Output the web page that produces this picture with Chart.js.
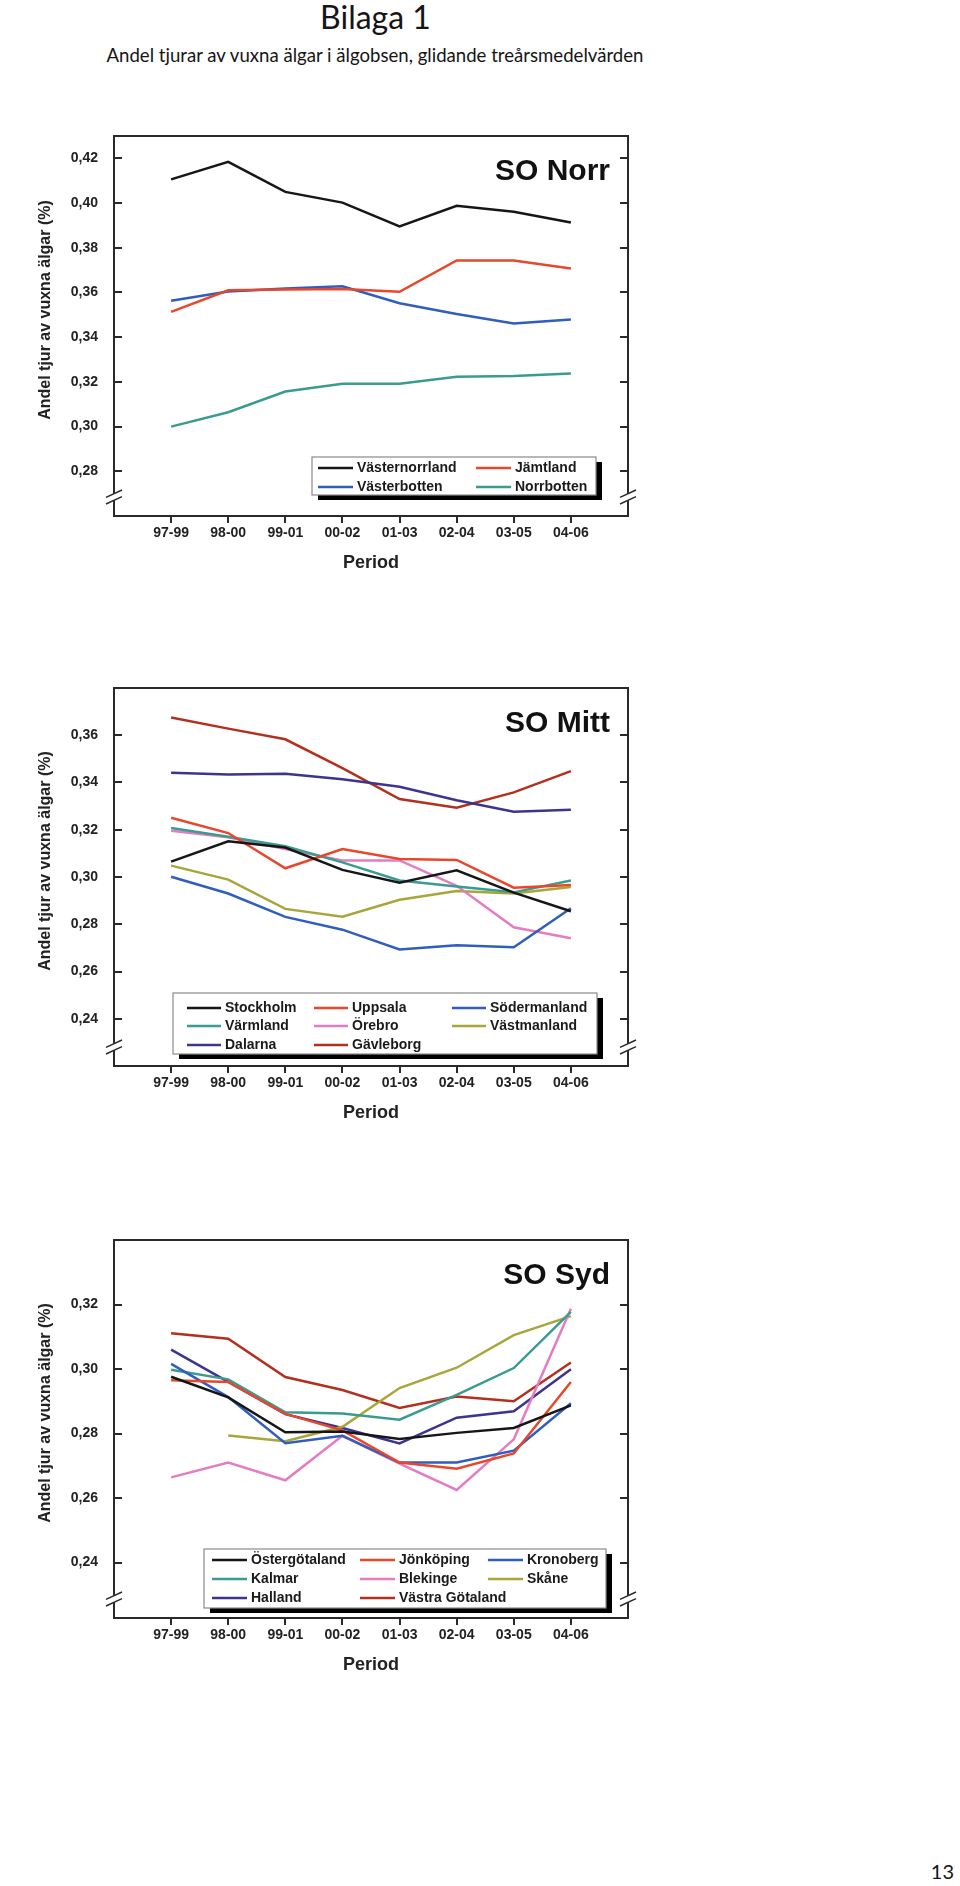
<!DOCTYPE html>
<html>
<head>
<meta charset="utf-8">
<script src="https://cdn.jsdelivr.net/npm/chart.js@4.4.1/dist/chart.umd.min.js"></script>
<style>
html,body{margin:0;padding:0;background:#fff;}
body{width:960px;height:1886px;position:relative;overflow:hidden;}
.hd{position:absolute;font-family:Lato,'Open Sans',sans-serif;color:#151515;white-space:nowrap;line-height:1;}
canvas{position:absolute;left:0;}
</style>
</head>
<body>
<div class="hd" style="left:0;width:751px;top:1px;text-align:center;font-size:32px;">Bilaga 1</div>
<div class="hd" style="left:0;width:750px;top:46px;text-align:center;font-size:18.6px;">Andel tjurar av vuxna älgar i älgobsen, glidande treårsmedelvärden</div>
<div class="hd" style="right:6px;top:1861px;font-size:20px;">13</div>

<canvas id="cNorr" width="700" height="500" style="top:96px"></canvas>
<canvas id="cMitt" width="700" height="498" style="top:648px"></canvas>
<canvas id="cSyd" width="700" height="498" style="top:1200px"></canvas>

<script>
// ---------- data ----------
const periods = ['97-99','98-00','99-01','00-02','01-03','02-04','03-05','04-06'];

// SO Norr
const vasternorrland = [0.4106, 0.4184, 0.4050, 0.4002, 0.3896, 0.3988, 0.3961, 0.3913];
const jamtland       = [0.3513, 0.3610, 0.3613, 0.3616, 0.3603, 0.3743, 0.3743, 0.3707];
const vasterbotten   = [0.3563, 0.3604, 0.3618, 0.3628, 0.3552, 0.3504, 0.3461, 0.3479];
const norrbotten     = [0.3000, 0.3064, 0.3157, 0.3192, 0.3192, 0.3223, 0.3226, 0.3237];
const norrTicks = [0.28, 0.30, 0.32, 0.34, 0.36, 0.38, 0.40, 0.42];

// SO Mitt
const stockholm    = [0.3065, 0.3151, 0.3125, 0.3030, 0.2976, 0.3028, 0.2934, 0.2855];
const uppsala      = [0.3251, 0.3186, 0.3037, 0.3118, 0.3076, 0.3072, 0.2955, 0.2966];
const sodermanland = [0.3001, 0.2930, 0.2831, 0.2777, 0.2693, 0.2711, 0.2703, 0.2868];
const varmland     = [0.3207, 0.3170, 0.3130, 0.3062, 0.2985, 0.2960, 0.2935, 0.2985];
const orebro       = [0.3196, 0.3168, 0.3118, 0.3070, 0.3070, 0.2963, 0.2787, 0.2741];
const vastmanland  = [0.3048, 0.2989, 0.2865, 0.2832, 0.2904, 0.2941, 0.2930, 0.2958];
const dalarna      = [0.3441, 0.3434, 0.3437, 0.3414, 0.3382, 0.3325, 0.3276, 0.3285];
const gavleborg    = [0.3675, 0.3628, 0.3583, 0.3461, 0.3330, 0.3293, 0.3358, 0.3448];
const mittTicks = [0.24, 0.26, 0.28, 0.30, 0.32, 0.34, 0.36];

// SO Syd
const ostergotland   = [0.2976, 0.2912, 0.2804, 0.2806, 0.2783, 0.2802, 0.2817, 0.2887];
const jonkoping      = [0.2965, 0.2960, 0.2861, 0.2810, 0.2710, 0.2691, 0.2738, 0.2960];
const kronoberg      = [0.3016, 0.2913, 0.2770, 0.2793, 0.2710, 0.2710, 0.2747, 0.2894];
const kalmar         = [0.2998, 0.2968, 0.2866, 0.2862, 0.2843, 0.2920, 0.3003, 0.3177];
const blekinge       = [0.2664, 0.2710, 0.2655, 0.2793, 0.2707, 0.2625, 0.2782, 0.3187];
const skane          = [null,   0.2794, 0.2776, 0.2821, 0.2941, 0.3004, 0.3105, 0.3164];
const halland        = [0.3060, 0.2960, 0.2860, 0.2817, 0.2769, 0.2849, 0.2869, 0.2999];
const vastraGotaland = [0.3111, 0.3094, 0.2975, 0.2935, 0.2879, 0.2915, 0.2900, 0.3020];
const sydTicks = [0.24, 0.26, 0.28, 0.30, 0.32];

// ---------- styles ----------
const C = {
  black:'#161616', red:'#e8472b', blue:'#2f5ec0', teal:'#3a9c8e',
  pink:'#e47cc3', olive:'#a8a63a', indigo:'#3c348f', darkred:'#b32f1e'
};
const AXIS = '#2a2a2a';
const FONT = "'Liberation Sans', Arial, sans-serif";

const framePlugin = {
  id: 'frameDeco',
  afterDatasetsDraw(chart, args, o) {
    const {ctx, chartArea:{left, right, top, bottom}, scales:{y}} = chart;
    ctx.save();
    // frame
    ctx.strokeStyle = AXIS; ctx.lineWidth = 2; ctx.lineCap = 'butt';
    ctx.strokeRect(left, top, right - left, bottom - top);
    // inward y ticks on both sides
    y.ticks.forEach(t => {
      const py = Math.round(y.getPixelForValue(t.value));
      ctx.beginPath();
      ctx.moveTo(left, py); ctx.lineTo(left + 8, py);
      ctx.moveTo(right - 8, py); ctx.lineTo(right, py);
      ctx.stroke();
    });
    // axis breaks
    const by = bottom - 19;
    [left, right].forEach(bx => {
      ctx.fillStyle = '#fff';
      ctx.fillRect(bx - 3, by - 3.3, 6, 6.6);
      ctx.lineWidth = 1.5;
      ctx.beginPath();
      ctx.moveTo(bx - 8, by - 3.3 + 3.7); ctx.lineTo(bx + 8, by - 3.3 - 3.7);
      ctx.moveTo(bx - 8, by + 3.3 + 3.7); ctx.lineTo(bx + 8, by + 3.3 - 3.7);
      ctx.stroke();
    });
    // panel label
    ctx.fillStyle = '#111';
    ctx.font = 'bold 30px ' + FONT;
    ctx.textAlign = 'right'; ctx.textBaseline = 'alphabetic';
    ctx.fillText(o.panel, 610, top + 44);
    // y title
    ctx.save();
    ctx.translate(46, (top + bottom) / 2 - 16);
    ctx.rotate(-Math.PI / 2);
    ctx.font = 'bold 16px ' + FONT;
    ctx.fillStyle = '#222';
    ctx.textAlign = 'center'; ctx.textBaseline = 'middle';
    ctx.fillText(o.yTitle, 0, 0);
    ctx.restore();
    // legend
    const L = o.legend;
    ctx.fillStyle = '#000';
    ctx.fillRect(L.x + 6, L.y + 5, L.w, L.h);
    ctx.fillStyle = '#fff';
    ctx.fillRect(L.x, L.y, L.w, L.h);
    ctx.strokeStyle = '#8a8a8a'; ctx.lineWidth = 1.2;
    ctx.strokeRect(L.x, L.y, L.w, L.h);
    ctx.font = 'bold 14px ' + FONT;
    ctx.textAlign = 'left'; ctx.textBaseline = 'middle';
    chart.data.datasets.forEach((ds, i) => {
      const r = Math.floor(i / L.cols.length), c = i % L.cols.length;
      const lx = L.cols[c], ly = L.rows[r];
      ctx.strokeStyle = ds.borderColor; ctx.lineWidth = 2.5;
      ctx.beginPath(); ctx.moveTo(lx, ly); ctx.lineTo(lx + L.len, ly); ctx.stroke();
      ctx.fillStyle = '#1a1a1a';
      ctx.fillText(ds.label, lx + L.len + 4, ly + 0.5);
    });
    ctx.restore();
  }
};

function makeChart(id, names, series, colors, yMin, yMax, ticks, deco) {
  const datasets = names.map((n, i) => ({
    label: n,
    data: series[i].map((v, k) => ({x: k, y: v})),
    borderColor: colors[i],
    backgroundColor: colors[i],
    borderWidth: 2.5,
    pointRadius: 0,
    tension: 0,
    fill: false,
    spanGaps: false
  }));
  return new Chart(document.getElementById(id), {
    type: 'line',
    data: { datasets },
    plugins: [framePlugin],
    options: {
      responsive: false,
      animation: false,
      devicePixelRatio: 1,
      layout: { padding: { top: 40, right: 72, left: 0, bottom: 0 } },
      plugins: { legend: { display: false }, tooltip: { enabled: false }, frameDeco: deco },
      scales: {
        x: {
          type: 'linear', min: -1, max: 8,
          afterBuildTicks: s => { s.ticks = periods.map((p, k) => ({value: k})); },
          afterFit: s => { s.height = 80; },
          grid: { display: true, drawOnChartArea: false, drawTicks: true, tickLength: 7, color: AXIS, lineWidth: 2 },
          border: { display: false },
          ticks: { font: { family: FONT, size: 14, weight: 'bold' }, color: '#222', padding: 2, maxRotation: 0,
                   callback: v => periods[v] },
          title: { display: true, text: 'Period', color: '#222', font: { family: FONT, size: 18, weight: 'bold' },
                   padding: { top: 0, bottom: 22 } }
        },
        y: {
          type: 'linear', min: yMin, max: yMax,
          afterBuildTicks: s => { s.ticks = ticks.map(v => ({value: v})); },
          afterFit: s => { s.width = 114; },
          grid: { display: false },
          border: { display: false },
          ticks: { font: { family: FONT, size: 14, weight: 'bold' }, color: '#222', padding: 8,
                   callback: v => Number(v).toFixed(2).replace('.', ',') }
        }
      }
    }
  });
}

const yTitle = 'Andel tjur av vuxna älgar (%)';

makeChart('cNorr',
  ['Västernorrland', 'Jämtland', 'Västerbotten', 'Norrbotten'],
  [vasternorrland, jamtland, vasterbotten, norrbotten],
  [C.black, C.red, C.blue, C.teal],
  0.26, 0.43, norrTicks,
  { panel: 'SO Norr', yTitle,
    legend: { x: 312, y: 361, w: 284, h: 38, cols: [318, 476], rows: [372, 391], len: 35 } });

makeChart('cMitt',
  ['Stockholm', 'Uppsala', 'Södermanland', 'Värmland', 'Örebro', 'Västmanland', 'Dalarna', 'Gävleborg'],
  [stockholm, uppsala, sodermanland, varmland, orebro, vastmanland, dalarna, gavleborg],
  [C.black, C.red, C.blue, C.teal, C.pink, C.olive, C.indigo, C.darkred],
  0.22, 0.38, mittTicks,
  { panel: 'SO Mitt', yTitle,
    legend: { x: 173, y: 345, w: 424, h: 61, cols: [187, 314, 452], rows: [360, 378, 397], len: 34 } });

makeChart('cSyd',
  ['Östergötaland', 'Jönköping', 'Kronoberg', 'Kalmar', 'Blekinge', 'Skåne', 'Halland', 'Västra Götaland'],
  [ostergotland, jonkoping, kronoberg, kalmar, blekinge, skane, halland, vastraGotaland],
  [C.black, C.red, C.blue, C.teal, C.pink, C.olive, C.indigo, C.darkred],
  0.2228, 0.34, sydTicks,
  { panel: 'SO Syd', yTitle,
    legend: { x: 204, y: 349, w: 402, h: 59, cols: [212, 360, 488], rows: [360, 379, 398], len: 35 } });
</script>
</body>
</html>
